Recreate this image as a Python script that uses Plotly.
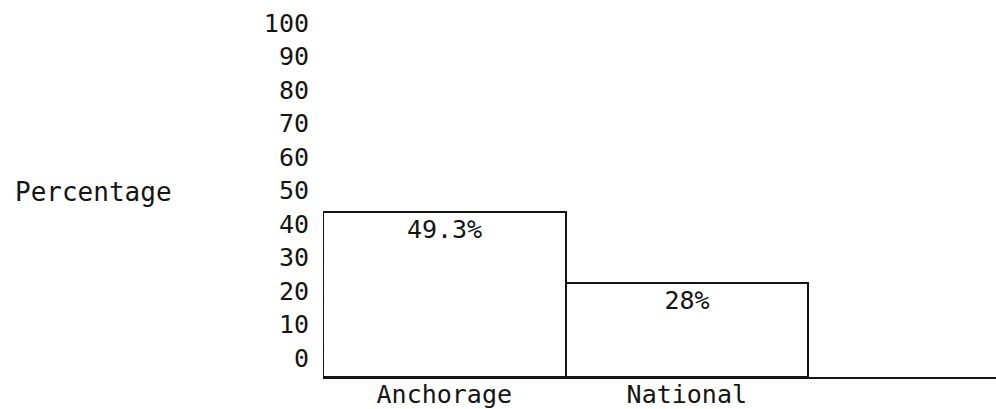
import plotly.graph_objects as go

categories = ["Anchorage", "National"]
values = [49.3, 28]
bar_labels = ["49.3%", "28%"]
tick_values = [0, 10, 20, 30, 40, 50, 60, 70, 80, 90, 100]
tick_labels = ["0", "10", "20", "30", "40", "50", "60", "70", "80", "90", "100"]
y_title = "Percentage"

FONT = "DejaVu Sans Mono"
INK = "#141414"

fig = go.Figure(
    go.Bar(
        x=categories,
        y=values,
        text=bar_labels,
        textposition="inside",
        insidetextanchor="end",
        constraintext="none",
        textfont=dict(family=FONT, size=25, color=INK),
        marker=dict(color="white", line=dict(color=INK, width=2)),
        width=1,
        hoverinfo="skip",
    )
)

fig.update_layout(
    width=996,
    height=409,
    margin=dict(l=323, r=0, t=8, b=32),
    paper_bgcolor="white",
    plot_bgcolor="white",
    showlegend=False,
    bargap=0,
    font=dict(family=FONT, size=25, color=INK),
    uniformtext=dict(minsize=25, mode="show"),
)

fig.update_xaxes(
    range=[-0.5, 2.275],
    showline=True,
    linecolor=INK,
    linewidth=2,
    showgrid=False,
    zeroline=False,
    ticks="",
    ticklabelstandoff=-6,
    automargin=False,
    tickfont=dict(family=FONT, size=25, color=INK),
)

fig.update_yaxes(
    range=[0, 110.15],
    tickvals=tick_values,
    ticktext=tick_labels,
    ticklabelshift=-19,
    ticklabelstandoff=13,
    showline=False,
    showgrid=False,
    zeroline=False,
    ticks="",
    automargin=False,
    tickfont=dict(family=FONT, size=25, color=INK),
)

fig.add_annotation(
    text=y_title,
    xref="paper",
    yref="paper",
    x=-323 / 673 + 13 / 673,
    y=(377 - 192) / 369,
    xanchor="left",
    yanchor="middle",
    showarrow=False,
    font=dict(family=FONT, size=26, color=INK),
)

fig.write_html(
    "out.html",
    config={"displayModeBar": False},
    post_script="document.body.style.margin='0';document.body.style.overflow='hidden';",
)
